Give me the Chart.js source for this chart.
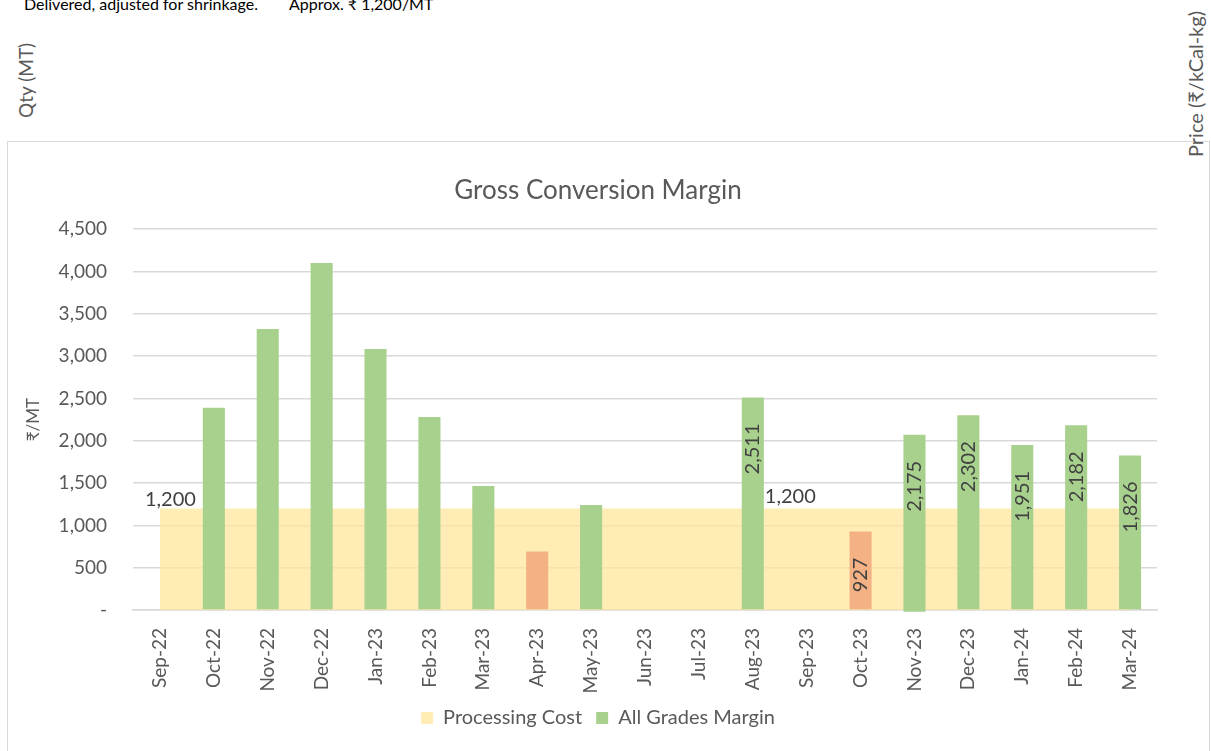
<!DOCTYPE html>
<html>
<head>
<meta charset="utf-8">
<script src="https://cdn.jsdelivr.net/npm/chart.js@4.4.1/dist/chart.umd.min.js"></script>
<style>
  html, body { margin: 0; padding: 0; background: #fff; }
  body { width: 1211px; height: 751px; overflow: hidden; position: relative;
         font-family: Lato, 'Noto Sans', 'DejaVu Sans', sans-serif; }
  .note { position: absolute; top: -6px; font-size: 16px; color: #000; white-space: nowrap; }
  .vtext { position: absolute; color: #595959; white-space: nowrap;
           transform-origin: left top; transform: rotate(-90deg); }
  #frame { position: absolute; left: 7px; top: 141px; width: 1201px; height: 640px;
           border: 1px solid #d9d9d9; background: #fff; }
  #wrap { position: absolute; left: 8px; top: 142px; width: 1200px; height: 609px; }
</style>
</head>
<body>
<div class="note" style="left:24px">Delivered, adjusted for shrinkage.</div>
<div class="note" style="left:289px">Approx. ₹ 1,200/MT</div>
<div class="vtext" style="left:14px; top:118px; font-size:19px">Qty (MT)</div>
<div id="frame"></div>
<div class="vtext" style="left:1183px; top:157px; font-size:20px">Price (₹/kCal-kg)</div>
<div id="wrap"><canvas id="gcm"></canvas></div>
<script>
// Months on the x axis
const months = ['Sep-22', 'Oct-22', 'Nov-22', 'Dec-22', 'Jan-23', 'Feb-23', 'Mar-23', 'Apr-23',
    'May-23', 'Jun-23', 'Jul-23', 'Aug-23', 'Sep-23', 'Oct-23', 'Nov-23', 'Dec-23',
    'Jan-24', 'Feb-24', 'Mar-24'];

// Processing cost (₹/MT), flat
const processingCost = [1200, 1200, 1200, 1200, 1200, 1200, 1200, 1200, 1200, 1200,
    1200, 1200, 1200, 1200, 1200, 1200, 1200, 1200, 1200];

// All grades margin (₹/MT); Nov-23 bar drawn as a floating bar like in the source
const allGradesMargin = [null, 2390, 3320, 4100, 3085, 2280, 1465, 690, 1240, null, null,
    2511, null, 927, [-20, 2070], 2302, 1951, 2182, 1826];

// Data label texts shown on the margin bars
const marginLabels = [null, null, null, null, null, null, null, null, null, null, null,
    '2,511', null, '927', '2,175', '2,302', '1,951', '2,182', '1,826'];

// Points of the processing cost line that carry a label
const costLabelIdx = [0, 11];

// Y axis ticks
const yTicks = [0, 500, 1000, 1500, 2000, 2500, 3000, 3500, 4000, 4500];

const FONT = "Lato, 'Noto Sans', 'DejaVu Sans', sans-serif";
const GREEN = '#a9d18e';
const ORANGE = '#f4b183';
const GREY = '#595959';

function barValue(v) {
    return Array.isArray(v) ? v[1] : v;
}

// Draws the data labels (no datalabels plugin available offline)
const labelPlugin = {
    id: 'labels',
    afterDatasetsDraw(chart) {
        const ctx = chart.ctx;
        ctx.save();
        ctx.fillStyle = '#404040';
        ctx.font = '20px ' + FONT;

        // margin bars: rotated text, near top of bar
        const barMeta = chart.getDatasetMeta(1);
        marginLabels.forEach((txt, i) => {
            if (!txt) return;
            const el = barMeta.data[i];
            ctx.save();
            ctx.translate(el.x, el.y + 26);
            ctx.rotate(-Math.PI / 2);
            ctx.textAlign = 'right';
            ctx.textBaseline = 'middle';
            ctx.fillText(txt, 0, 0);
            ctx.restore();
        });

        // processing cost labels
        const lineMeta = chart.getDatasetMeta(0);
        costLabelIdx.forEach((i, n) => {
            const pt = lineMeta.data[i];
            const txt = processingCost[i].toLocaleString('en-US');
            ctx.textBaseline = 'middle';
            ctx.textAlign = 'left';
            if (n === 0) {
                ctx.fillText(txt, pt.x - 15, pt.y - 9);
            } else {
                ctx.fillText(txt, pt.x + 12, pt.y - 12);
            }
        });
        ctx.restore();
    }
};

new Chart(document.getElementById('gcm'), {
    data: {
        labels: months,
        datasets: [{
            type: 'line',
            label: 'Processing Cost',
            data: processingCost,
            backgroundColor: 'rgba(255, 230, 153, 0.72)',
            borderColor: 'transparent',
            borderWidth: 0,
            pointRadius: 0,
            fill: 'origin',
            order: 2
        }, {
            type: 'bar',
            label: 'All Grades Margin',
            data: allGradesMargin,
            backgroundColor: (c) => {
                const v = barValue(c.raw);
                return (v != null && v < processingCost[c.dataIndex || 0]) ? ORANGE : GREEN;
            },
            barPercentage: 0.41,
            categoryPercentage: 1,
            clip: false,
            order: 1
        }]
    },
    options: {
        responsive: true,
        maintainAspectRatio: false,
        animation: false,
        layout: { padding: { left: 31, right: 51, top: 0, bottom: 13 } },
        plugins: {
            title: {
                display: true,
                text: 'Gross Conversion Margin',
                color: GREY,
                font: { family: FONT, size: 26, weight: 'normal' },
                padding: { top: 33, bottom: 23 }
            },
            legend: {
                position: 'bottom',
                labels: {
                    color: GREY,
                    font: { family: FONT, size: 20 },
                    boxWidth: 12,
                    boxHeight: 12,
                    padding: 14,
                    sort: (a, b) => a.datasetIndex - b.datasetIndex
                }
            },
            tooltip: { enabled: false }
        },
        scales: {
            x: {
                grid: { display: false, drawTicks: false },
                border: { display: true, color: '#d9d9d9', width: 1.5 },
                ticks: {
                    color: GREY,
                    font: { family: FONT, size: 19 },
                    maxRotation: 90,
                    minRotation: 90,
                    autoSkip: false,
                    padding: 18
                },
                afterFit(scale) { scale.height = 84; }
            },
            y: {
                min: 0,
                max: 4500,
                afterBuildTicks(scale) { scale.ticks = yTicks.map(v => ({ value: v })); },
                grid: { color: '#d9d9d9', lineWidth: 1.5, drawTicks: false },
                border: { display: false },
                ticks: {
                    color: GREY,
                    font: { family: FONT, size: 19 },
                    padding: 26,
                    callback: (v) => v === 0 ? '-' : v.toLocaleString('en-US')
                },
                title: {
                    display: true,
                    text: '₹/MT',
                    color: GREY,
                    font: { family: FONT, size: 17 },
                    padding: { top: -16, bottom: 0 }
                },
                afterFit(scale) { scale.width = 94; }
            }
        }
    },
    plugins: [labelPlugin]
});
</script>
</body>
</html>
